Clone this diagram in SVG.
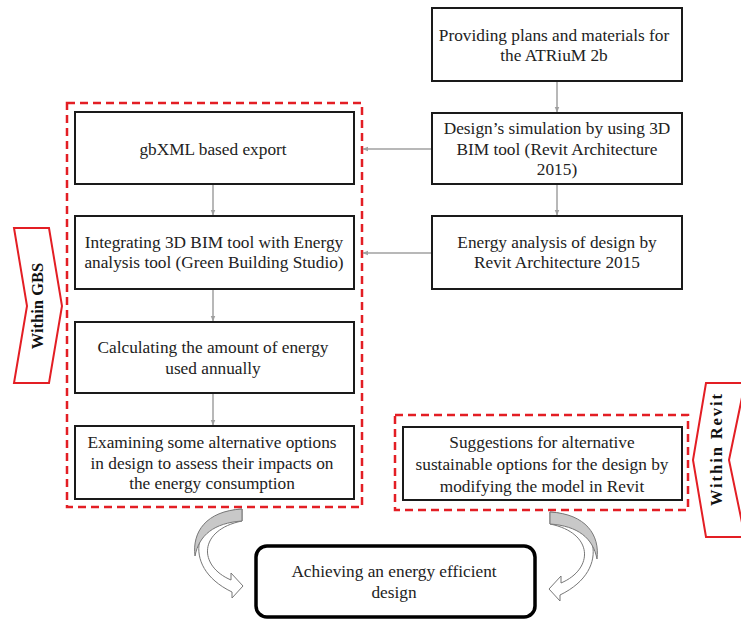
<svg xmlns="http://www.w3.org/2000/svg" width="741" height="620" viewBox="0 0 741 620">
<defs>
<style>
.box{fill:#fff;stroke:#1a1a1a;stroke-width:2}
.t{font-family:"Liberation Serif","Times New Roman",serif;font-size:17.3px;fill:#222;text-anchor:middle}
.tag{font-family:"Liberation Serif","Times New Roman",serif;font-size:16.5px;font-weight:bold;fill:#111;text-anchor:middle}
.dash{fill:none;stroke:#e31e24;stroke-width:2.5;stroke-dasharray:8 5}
.chev{fill:#fff;stroke:#e31e24;stroke-width:2}
.con{stroke:#a0a0a0;stroke-width:1.5;fill:none;marker-end:url(#ah)}
.curl{fill:#fff;stroke:#777;stroke-width:1}
.curlg{fill:#c8c8c8;stroke:#777;stroke-width:1}
</style>
<marker id="ah" viewBox="0 0 10 10" refX="9" refY="5" markerWidth="6" markerHeight="6" orient="auto" markerUnits="userSpaceOnUse">
<path d="M0,1 L10,5 L0,9 Z" fill="#a0a0a0"/>
</marker>
<g id="curl">
<path class="curl" d="M242,509 C196,512 178,566 232,592 L232,598 L243,586 L231,573 L231,580 C198,566 198,530 242,521 Z"/>
<path class="curlg" d="M242,509 C206,511 192,532 195,556 C199,535 214,523 242,521 Z"/>
</g>
</defs>
<rect width="741" height="620" fill="#fff"/>

<g id="groups">
<rect class="dash" x="67" y="103" width="295" height="404"/>
<rect class="dash" x="395" y="415" width="293" height="95"/>
</g>

<g id="connectors">
<line class="con" x1="557" y1="81" x2="557" y2="112"/>
<line class="con" x1="557" y1="185" x2="557" y2="215"/>
<line class="con" x1="432" y1="149" x2="363" y2="149"/>
<line class="con" x1="432" y1="253" x2="363" y2="253"/>
<line class="con" x1="213" y1="185" x2="213" y2="215"/>
<line class="con" x1="213" y1="290" x2="213" y2="321"/>
<line class="con" x1="213" y1="394" x2="213" y2="425"/>
<use href="#curl"/>
<use href="#curl" transform="translate(792,3) scale(-1,1)"/>
</g>

<g id="n1">
<rect class="box" x="432" y="8" width="250" height="73"/>
<text class="t" x="554" y="41">Providing plans and materials for</text>
<text class="t" x="554" y="61">the ATRiuM 2b</text>
</g>
<g id="n2">
<rect class="box" x="432" y="113" width="250" height="71"/>
<text class="t" x="557" y="134">Design’s simulation by using 3D</text>
<text class="t" x="557" y="155">BIM tool (Revit Architecture</text>
<text class="t" x="557" y="175">2015)</text>
</g>
<g id="n3">
<rect class="box" x="432" y="216" width="250" height="73"/>
<text class="t" x="557" y="248">Energy analysis of design by</text>
<text class="t" x="557" y="268">Revit Architecture 2015</text>
</g>
<g id="n4">
<rect class="box" x="75" y="112" width="279" height="72"/>
<text class="t" x="213" y="155">gbXML based export</text>
</g>
<g id="n5">
<rect class="box" x="75" y="216" width="279" height="73"/>
<text class="t" x="214" y="248">Integrating 3D BIM tool with Energy</text>
<text class="t" x="214" y="268">analysis tool (Green Building Studio)</text>
</g>
<g id="n6">
<rect class="box" x="75" y="322" width="279" height="71"/>
<text class="t" x="213" y="353">Calculating the amount of energy</text>
<text class="t" x="213" y="374">used annually</text>
</g>
<g id="n7">
<rect class="box" x="75" y="426" width="279" height="73"/>
<text class="t" x="212" y="448">Examining some alternative options</text>
<text class="t" x="212" y="469">in design to assess their impacts on</text>
<text class="t" x="212" y="489">the energy consumption</text>
</g>
<g id="n8">
<rect class="box" x="403" y="427" width="279" height="73"/>
<text class="t" x="542" y="448">Suggestions for alternative</text>
<text class="t" x="542" y="470">sustainable options for the design by</text>
<text class="t" x="542" y="492">modifying the model in Revit</text>
</g>
<g id="n9">
<rect x="256" y="546" width="279" height="71" rx="11" ry="11" fill="#fff" stroke="#000" stroke-width="3.5"/>
<text class="t" x="394" y="577">Achieving an energy efficient</text>
<text class="t" x="394" y="598">design</text>
</g>

<g id="tagGBS">
<polygon class="chev" points="14,228 49,228 62,306 49,383 14,383 27,306"/>
<text class="tag" transform="translate(43,306) rotate(-90)">Within GBS</text>
</g>
<g id="tagRevit">
<polygon class="chev" points="706,383 745,383 729,460 745,537 706,537 693,460"/>
<text class="tag" transform="translate(722,450) rotate(-90)" textLength="112" lengthAdjust="spacing">Within Revit</text>
</g>
</svg>
